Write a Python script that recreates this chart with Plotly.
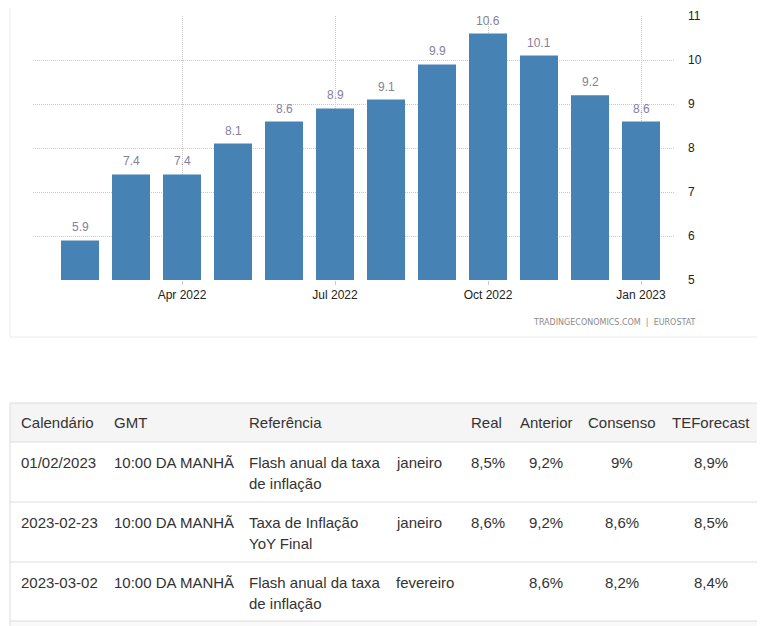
import plotly.graph_objects as go

# ---------------- data ----------------
months = ["Feb 2022", "Mar 2022", "Apr 2022", "May 2022", "Jun 2022", "Jul 2022",
          "Aug 2022", "Sep 2022", "Oct 2022", "Nov 2022", "Dec 2022", "Jan 2023"]
inflation = [5.9, 7.4, 7.4, 8.1, 8.6, 8.9, 9.1, 9.9, 10.6, 10.1, 9.2, 8.6]
x_ticks = ["Apr 2022", "Jul 2022", "Oct 2022", "Jan 2023"]
y_ticks = [5, 6, 7, 8, 9, 10, 11]
source_text = "TRADINGECONOMICS.COM  |  EUROSTAT"

headers = ["Calendário", "GMT", "Referência", "", "Real", "Anterior", "Consenso", "TEForecast"]
calendario = ["01/02/2023", "2023-02-23", "2023-03-02"]
gmt = ["10:00 DA MANHÃ", "10:00 DA MANHÃ", "10:00 DA MANHÃ"]
referencia = ["Flash anual da taxa<br>de inflação", "Taxa de Inflação<br>YoY Final",
              "Flash anual da taxa<br>de inflação"]
periodo = ["janeiro", "janeiro", "fevereiro"]
real = ["8,5%", "8,6%", ""]
anterior = ["9,2%", "9,2%", "8,6%"]
consenso = ["9%", "8,6%", "8,2%"]
teforecast = ["8,9%", "8,5%", "8,4%"]

# ---------------- layout helpers ----------------
W, H = 765, 626
OFF = 8  # page body margin
def px(x):
    return (x - OFF) / W
def py(y):
    return 1 - (y - OFF) / H

fig = go.Figure()
fig.add_trace(go.Bar(
    x=months, y=inflation,
    marker=dict(color="#4682b4", line=dict(width=0)),
    hoverinfo="x+y",
))

annotations = []
# bar value labels
for m, v in zip(months, inflation):
    annotations.append(dict(
        x=m, y=v, xref="x", yref="y", text=f"{v:.1f}", showarrow=False,
        yanchor="middle", yshift=13,
        font=dict(family="Liberation Sans, Arial", size=12, color="#85809a"),
    ))

# source footer
annotations.append(dict(
    x=px(698), y=py(322), xref="paper", yref="paper", text=source_text,
    showarrow=False, xanchor="right", yanchor="middle",
    font=dict(family="DejaVu Sans", size=8, color="#8a8a8a"),
))

shapes = []
# chart card border
shapes.append(dict(type="rect", xref="paper", yref="paper",
                   x0=px(10), x1=px(760), y0=py(337), y1=py(-5),
                   line=dict(color="#ececec", width=1), fillcolor="rgba(0,0,0,0)", layer="below"))

# ---------------- table ----------------
col_x = [19, 112, 247, 394, 469, 546, 622, 711]
col_anchor = ["left", "left", "left", "left", "left", "center", "center", "center"]
table_top, header_bottom = 403, 442
row_tops = [442, 502, 562]
row_bottom_last = 621
font_tbl = dict(family="Liberation Sans, Arial", size=15, color="#333333")

shapes.append(dict(type="rect", xref="paper", yref="paper",
                   x0=px(10), x1=px(760), y0=py(header_bottom), y1=py(table_top),
                   fillcolor="#f5f5f5", line=dict(width=0), layer="below"))
shapes.append(dict(type="rect", xref="paper", yref="paper",
                   x0=px(10), x1=px(760), y0=py(640), y1=py(row_bottom_last),
                   fillcolor="#f9f9f9", line=dict(width=0), layer="below"))
for yy in [table_top, header_bottom] + row_tops[1:] + [row_bottom_last]:
    shapes.append(dict(type="line", xref="paper", yref="paper",
                       x0=px(10), x1=px(760), y0=py(yy), y1=py(yy),
                       line=dict(color="#dddddd", width=1)))
for xx in [10, 760]:
    shapes.append(dict(type="line", xref="paper", yref="paper",
                       x0=px(xx), x1=px(xx), y0=py(table_top), y1=py(640),
                       line=dict(color="#dddddd", width=1)))

for h, cx, anc in zip(headers, col_x, col_anchor):
    if h:
        annotations.append(dict(x=px(cx), y=py(422), xref="paper", yref="paper", text=h,
                                showarrow=False, xanchor=anc, yanchor="middle", font=font_tbl))

columns = [calendario, gmt, referencia, periodo, real, anterior, consenso, teforecast]
for ci, col in enumerate(columns):
    for ri, cell in enumerate(col):
        for li, line in enumerate(cell.split("<br>")):
            if not line:
                continue
            yc = row_tops[ri] + 20 + 21 * li
            annotations.append(dict(x=px(col_x[ci]), y=py(yc), xref="paper", yref="paper",
                                    text=line, showarrow=False, xanchor=col_anchor[ci],
                                    yanchor="middle", font=font_tbl))

grid_dash = "1px,1px"
fig.update_layout(
    width=W, height=H,
    margin=dict(l=0, r=0, t=0, b=0, autoexpand=False),
    paper_bgcolor="white", plot_bgcolor="white",
    showlegend=False,
    bargap=0.255,
    xaxis=dict(
        domain=[px(33), px(675)],
        type="category",
        range=[-47 / 51, 595 / 51],
        tickmode="array", tickvals=x_ticks, ticktext=x_ticks,
        showgrid=True, gridcolor="#c8c8c8", griddash=grid_dash, gridwidth=1,
        ticks="outside", ticklen=4, tickcolor="#c8c8c8",
        showline=False, zeroline=False, automargin=False,
        tickfont=dict(family="Liberation Sans, Arial", size=12, color="#222222"),
    ),
    yaxis=dict(
        domain=[py(280), py(16)],
        range=[5, 11],
        side="right",
        tickmode="array", tickvals=y_ticks,
        showgrid=True, gridcolor="#c8c8c8", griddash=grid_dash, gridwidth=1,
        ticks="", ticklabelstandoff=12,
        showline=False, zeroline=False, automargin=False,
        tickfont=dict(family="Liberation Sans, Arial", size=12, color="#222222"),
    ),
    annotations=annotations,
    shapes=shapes,
)

fig.write_html("out.html")
